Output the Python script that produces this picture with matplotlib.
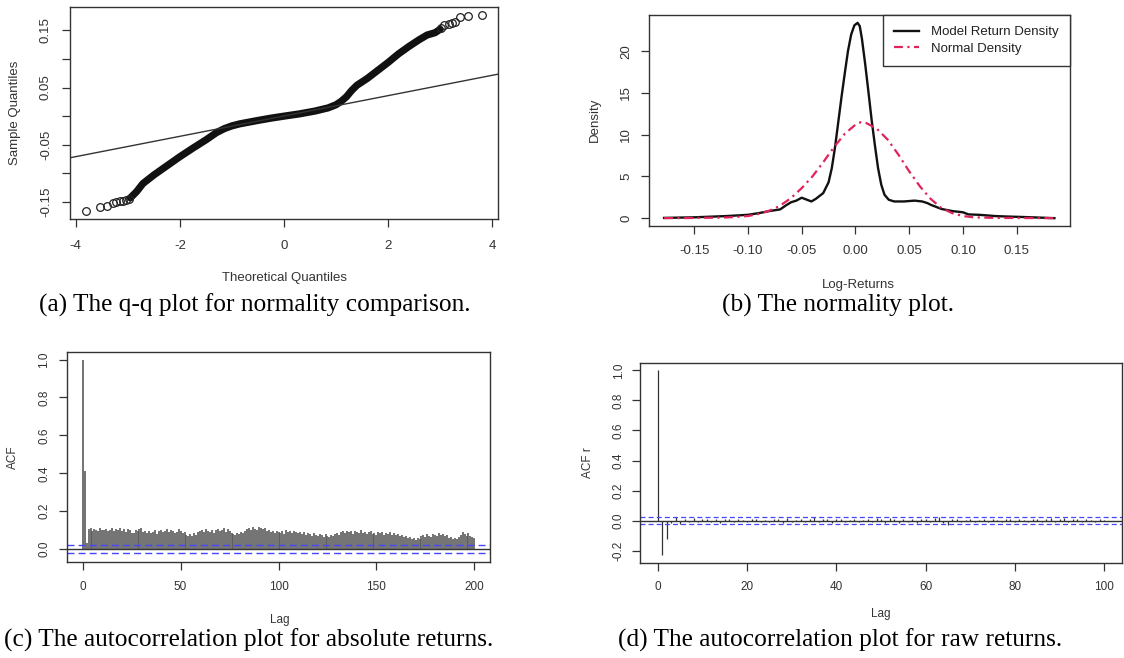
import matplotlib
matplotlib.use('Agg')
import matplotlib.pyplot as plt

plt.rcParams['axes.unicode_minus'] = False

# ---- (a) q-q plot ----
qq_cuerpo_x = [-2.95, -2.83, -2.71, -2.5, -2.25, -2.0, -1.75, -1.49, -1.3, -1.15, -1.0, -0.85,
               -0.5, -0.25, 0.0, 0.3, 0.6, 0.85, 1.0, 1.1, 1.2, 1.3, 1.4, 1.6, 1.8, 2.0,
               2.2, 2.4, 2.6, 2.75, 2.9, 3.0]
qq_cuerpo_y = [-0.143, -0.132, -0.118, -0.103, -0.087, -0.071, -0.056, -0.041, -0.029, -0.022,
               -0.017, -0.0135, -0.0075, -0.0035, 0.0, 0.004, 0.009, 0.0145, 0.020, 0.026,
               0.034, 0.045, 0.054, 0.066, 0.080, 0.094, 0.109, 0.122, 0.134, 0.142, 0.146, 0.152]
qq_cola_x = [-3.81, -3.54, -3.40, -3.28, -3.22, -3.15, -3.09, -3.03, -2.98,
             3.02, 3.08, 3.16, 3.22, 3.28, 3.38, 3.53, 3.80]
qq_cola_y = [-0.166, -0.159, -0.157, -0.152, -0.151, -0.149, -0.148, -0.146, -0.145,
             0.155, 0.159, 0.162, 0.163, 0.165, 0.174, 0.1755, 0.177]
qq_linea_intercepto = 0.0003
qq_linea_pendiente = 0.0178

# ---- (b) densidades ----
dens_modelo_x = [-0.178, -0.15, -0.12, -0.10, -0.09, -0.08, -0.07, -0.065, -0.06, -0.055,
                 -0.05, -0.045, -0.041, -0.037, -0.033, -0.030, -0.025, -0.022, -0.019, -0.016,
                 -0.013, -0.010, -0.007, -0.004, -0.001, 0.002, 0.004, 0.006, 0.009, 0.012,
                 0.015, 0.018, 0.021, 0.024, 0.027, 0.031, 0.036, 0.045, 0.055, 0.062,
                 0.067, 0.07, 0.08, 0.09, 0.10, 0.105, 0.115, 0.12, 0.13, 0.14, 0.16, 0.185]
dens_modelo_y = [0.03, 0.1, 0.25, 0.4, 0.6, 0.85, 1.05, 1.5, 1.9, 2.1,
                 2.45, 2.2, 2.0, 2.3, 2.7, 3.0, 4.3, 6.0, 8.5, 11.5,
                 14.5, 17.3, 20.0, 22.0, 23.1, 23.4, 23.0, 21.5, 18.5, 15.2,
                 11.8, 8.8, 6.0, 4.0, 2.8, 2.2, 2.0, 2.0, 2.1, 2.0,
                 1.8, 1.6, 1.1, 0.85, 0.7, 0.45, 0.4, 0.35, 0.25, 0.2, 0.12, 0.0]
dens_normal_x = [-0.178, -0.15, -0.12, -0.10, -0.09, -0.08, -0.07, -0.06, -0.05, -0.04,
                 -0.03, -0.02, -0.01, 0.0, 0.005, 0.01, 0.02, 0.03, 0.04, 0.05,
                 0.06, 0.07, 0.08, 0.09, 0.10, 0.11, 0.13, 0.185]
dens_normal_y = [0.0, 0.02, 0.08, 0.25, 0.5, 0.9, 1.5, 2.4, 3.6, 5.0,
                 6.7, 8.5, 10.1, 11.2, 11.5, 11.4, 10.7, 9.4, 7.6, 5.6,
                 3.8, 2.3, 1.2, 0.6, 0.25, 0.1, 0.03, 0.0]

# ---- (c) ACF de retornos absolutos, lags 0..200 ----
acf_abs = [
    1.00, 0.41, 0.03, 0.105, 0.112, 0.098, 0.108, 0.101, 0.096, 0.109,
    0.103, 0.099, 0.107, 0.094, 0.102, 0.111, 0.097, 0.105, 0.100, 0.113,
    0.098, 0.106, 0.092, 0.104, 0.099, 0.087, 0.083, 0.101, 0.095, 0.108,
    0.112, 0.089, 0.097, 0.084, 0.093, 0.086, 0.091, 0.099, 0.082, 0.095,
    0.103, 0.088, 0.094, 0.107, 0.090, 0.101, 0.096, 0.085, 0.092, 0.104,
    0.097, 0.083, 0.089, 0.076, 0.071, 0.080, 0.068, 0.086, 0.075, 0.091,
    0.094, 0.101, 0.088, 0.106, 0.097, 0.091, 0.103, 0.085, 0.099, 0.108,
    0.095, 0.102, 0.110, 0.092, 0.104, 0.098, 0.087, 0.081, 0.074, 0.084,
    0.079, 0.088, 0.083, 0.095, 0.106, 0.112, 0.101, 0.115, 0.108, 0.099,
    0.117, 0.110, 0.104, 0.113, 0.096, 0.102, 0.089, 0.093, 0.084, 0.097,
    0.091, 0.086, 0.095, 0.081, 0.099, 0.088, 0.093, 0.083, 0.097, 0.090,
    0.085, 0.092, 0.078, 0.088, 0.074, 0.083, 0.079, 0.071, 0.086, 0.076,
    0.069, 0.078, 0.073, 0.066, 0.080, 0.071, 0.064, 0.075, 0.068, 0.079,
    0.083, 0.077, 0.091, 0.096, 0.085, 0.093, 0.088, 0.098, 0.082, 0.094,
    0.090, 0.086, 0.099, 0.084, 0.092, 0.079, 0.088, 0.095, 0.081, 0.087,
    0.076, 0.092, 0.083, 0.089, 0.074, 0.085, 0.080, 0.091, 0.077, 0.084,
    0.072, 0.081, 0.067, 0.075, 0.064, 0.070, 0.058, 0.062, 0.053, 0.057,
    0.050, 0.061, 0.055, 0.068, 0.076, 0.064, 0.079, 0.071, 0.066, 0.082,
    0.074, 0.069, 0.085, 0.072, 0.078, 0.067, 0.073, 0.058, 0.063, 0.054,
    0.059, 0.052, 0.066, 0.075, 0.088, 0.079, 0.070, 0.084, 0.068, 0.062,
    0.057,
]
acf_abs_banda = 0.023

# ---- (d) ACF de retornos, lags 0..100 ----
acf_raw = [
    1.0, -0.232, -0.122, -0.018, 0.022, -0.025,
    0.012, -0.008, 0.015, -0.011, 0.009, 0.014, -0.006, 0.011, -0.013, 0.008,
    0.010, -0.009, 0.013, 0.007, -0.012, 0.009, 0.011, -0.007, 0.006, -0.010,
    0.012, 0.008, -0.014, 0.016, -0.009, 0.007, 0.011, -0.008, 0.010, 0.021,
    -0.012, 0.009, 0.013, -0.016, 0.008, 0.010, -0.011, 0.006, 0.014, -0.009,
    0.007, 0.012, -0.010, 0.018, 0.011, -0.013, 0.015, 0.009, -0.017, 0.012,
    -0.008, 0.010, -0.019, 0.013, 0.008, -0.011, 0.016, 0.024, -0.014, -0.026,
    0.011, 0.014, -0.009, 0.007, 0.012, -0.010, 0.006, 0.009, -0.008, 0.011,
    0.007, -0.012, 0.010, 0.008, -0.009, 0.013, 0.006, -0.011, 0.009, 0.012,
    -0.007, 0.010, 0.015, -0.010, 0.008, 0.018, -0.012, 0.009, 0.011, -0.008,
    0.010, 0.006, -0.009, 0.012, 0.007,
]
acf_raw_banda = 0.022

W, H = 1124, 658
GRIS = '#333333'
AZUL = '#4646ff'
SANS = 'Liberation Sans'
SERIF = 'Liberation Serif'


def caja(izq, arriba, der, abajo):
    # caja en pixeles -> fraccion de figura
    return [izq / W, 1 - abajo / H, (der - izq) / W, (abajo - arriba) / H]


def texto(x, y, s, **kw):
    fig.text(x / W, 1 - y / H, s, ha='center', va='center', **kw)


def estilo_r(ax, size, padx, pady):
    for s in ax.spines.values():
        s.set_color(GRIS)
        s.set_linewidth(1.0)
    ax.tick_params(direction='out', length=6, width=0.9, colors=GRIS, labelcolor=GRIS,
                   labelsize=size)
    ax.tick_params(axis='x', pad=padx)
    ax.tick_params(axis='y', pad=pady)
    for lab in ax.get_yticklabels():
        lab.set_rotation(90)
        lab.set_va('center')
        lab.set_family(SANS)
    for lab in ax.get_xticklabels():
        lab.set_family(SANS)


fig = plt.figure(figsize=(W / 100, H / 100), dpi=100)

# ---------------- (a) ----------------
ax = fig.add_axes(caja(70, 7, 498, 219))
ax.plot(qq_cuerpo_x, qq_cuerpo_y, color='#111111', lw=5.2, solid_capstyle='round',
        solid_joinstyle='round')
ax.plot(qq_cola_x, qq_cola_y, 'o', ms=5.5, mfc='none', mec='#222222', mew=0.9)
ax.axline((0, qq_linea_intercepto), slope=qq_linea_pendiente, color=GRIS, lw=1.0)
ax.set_xlim(-4.11, 4.11)
ax.set_ylim(-0.18, 0.191)
ax.set_xticks([-4, -2, 0, 2, 4])
ax.set_yticks([-0.15, -0.10, -0.05, 0.0, 0.05, 0.10, 0.15])
ax.set_yticklabels(['-0.15', '', '-0.05', '', '0.05', '', '0.15'])
estilo_r(ax, 9.5, 9, 7)
texto(284, 278, 'Theoretical Quantiles', family=SANS, size=9.5, color=GRIS)
texto(15, 113, 'Sample Quantiles', family=SANS, size=9.5, color=GRIS, rotation=90)

# ---------------- (b) ----------------
ax = fig.add_axes(caja(649, 15, 1070, 226))
ax.plot(dens_modelo_x, dens_modelo_y, color='#111111', lw=1.7, label='Model Return Density')
ax.plot(dens_normal_x, dens_normal_y, color='#e0245a', lw=1.6,
        linestyle=(0, (4, 2, 1, 2)), label='Normal Density')
ax.set_xlim(-0.192, 0.1995)
ax.set_ylim(-0.94, 24.34)
ax.set_xticks([-0.15, -0.10, -0.05, 0.0, 0.05, 0.10, 0.15])
ax.set_xticklabels(['-0.15', '-0.10', '-0.05', '0.00', '0.05', '0.10', '0.15'])
ax.set_yticks([0, 5, 10, 15, 20])
estilo_r(ax, 9.5, 8, 6)
ley = ax.legend(loc='upper right', borderaxespad=0, fancybox=False, framealpha=1,
                edgecolor=GRIS, handlelength=1.9, handletextpad=0.9, labelspacing=0.3,
                borderpad=0.85, prop={'family': SANS, 'size': 9.5})
ley.get_frame().set_linewidth(1.0)
for t in ley.get_texts():
    t.set_color('#222222')
texto(858, 285, 'Log-Returns', family=SANS, size=9.5, color=GRIS)
texto(595, 120, 'Density', family=SANS, size=9.5, color=GRIS, rotation=90)

# ---------------- (c) ----------------
ax = fig.add_axes(caja(67, 352, 490, 562))
lags_abs = list(range(len(acf_abs)))
ax.vlines(lags_abs, 0, acf_abs, color='#5a5a5a', lw=1.2)
ax.axhline(0, color=GRIS, lw=1.0)
for b in (acf_abs_banda, -acf_abs_banda):
    ax.axhline(b, color=AZUL, lw=1.0, linestyle=(0, (5, 3)))
ax.set_xlim(-8, 208)
ax.set_ylim(-0.068, 1.04)
ax.set_xticks([0, 50, 100, 150, 200])
ax.set_yticks([0.0, 0.2, 0.4, 0.6, 0.8, 1.0])
ax.set_yticklabels(['0.0', '0.2', '0.4', '0.6', '0.8', '1.0'])
estilo_r(ax, 8.5, 8, 6)
texto(280, 620, 'Lag', family=SANS, size=8.5, color=GRIS)
texto(13, 457, 'ACF', family=SANS, size=8.5, color=GRIS, rotation=90)

# ---------------- (d) ----------------
ax = fig.add_axes(caja(640, 363, 1122, 563))
lags_raw = list(range(len(acf_raw)))
ax.vlines(lags_raw, 0, acf_raw, color='#333333', lw=0.9)
ax.axhline(0, color=GRIS, lw=1.0)
for b in (acf_raw_banda, -acf_raw_banda):
    ax.axhline(b, color=AZUL, lw=0.9, linestyle=(0, (4, 2.5)))
ax.set_xlim(-4, 104)
ax.set_ylim(-0.282, 1.049)
ax.set_xticks([0, 20, 40, 60, 80, 100])
ax.set_yticks([-0.2, 0.0, 0.2, 0.4, 0.6, 0.8, 1.0])
ax.set_yticklabels(['-0.2', '0.0', '0.2', '0.4', '0.6', '0.8', '1.0'])
estilo_r(ax, 8.5, 7, 5)
texto(881, 614, 'Lag', family=SANS, size=8.5, color=GRIS)
texto(588, 463, 'ACF r', family=SANS, size=8.5, color=GRIS, rotation=90)

# ---------------- pies de figura ----------------
CAP = 18.3
texto(255, 305, '(a) The q-q plot for normality comparison.', family=SERIF, size=CAP, color='black')
texto(838, 305, '(b) The normality plot.', family=SERIF, size=CAP, color='black')
texto(249, 640, '(c) The autocorrelation plot for absolute returns.', family=SERIF, size=CAP,
      color='black')
texto(840, 640, '(d) The autocorrelation plot for raw returns.', family=SERIF, size=CAP,
      color='black')

fig.savefig('out.png', dpi=100, facecolor='white')
plt.close(fig)
